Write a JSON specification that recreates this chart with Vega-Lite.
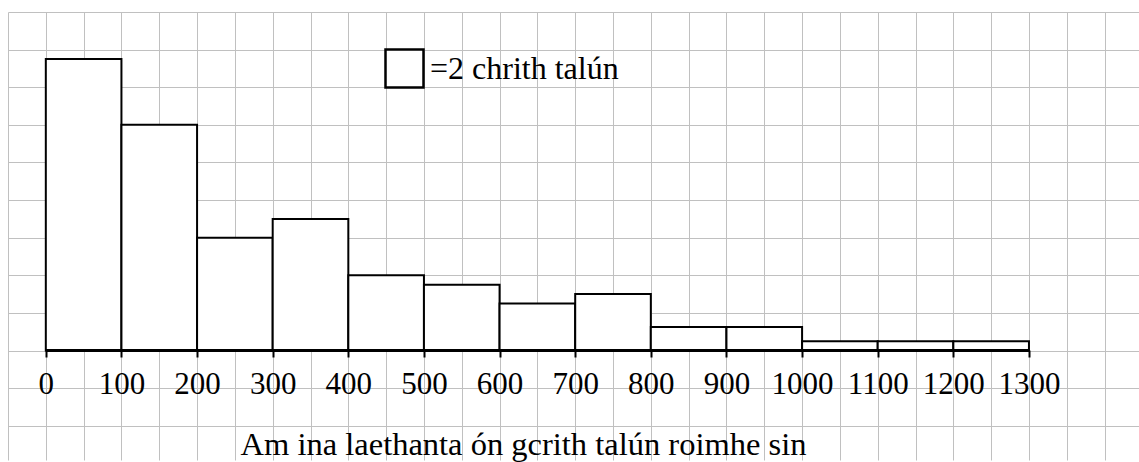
{
  "$schema": "https://vega.github.io/schema/vega-lite/v6.json",
  "width": 1139,
  "height": 462,
  "autosize": {"type": "fit", "contains": "padding"},
  "padding": {"left": 8, "top": 12, "right": 0, "bottom": 0},
  "background": "white",
  "config": {"view": {"stroke": null}, "font": "Liberation Serif"},
  "data": {
    "values": [
      {"start": 0, "end": 100, "h": 7.75},
      {"start": 100, "end": 200, "h": 6},
      {"start": 200, "end": 300, "h": 3},
      {"start": 300, "end": 400, "h": 3.5},
      {"start": 400, "end": 500, "h": 2},
      {"start": 500, "end": 600, "h": 1.75},
      {"start": 600, "end": 700, "h": 1.25},
      {"start": 700, "end": 800, "h": 1.5},
      {"start": 800, "end": 900, "h": 0.625},
      {"start": 900, "end": 1000, "h": 0.625},
      {"start": 1000, "end": 1100, "h": 0.25},
      {"start": 1100, "end": 1200, "h": 0.25},
      {"start": 1200, "end": 1300, "h": 0.25}
    ]
  },
  "layer": [
    {
      "mark": {"type": "rect", "fill": "white", "strokeWidth": 2},
      "encoding": {
        "x": {
          "field": "start",
          "type": "quantitative",
          "scale": {"domain": [-50, 1445.5], "nice": false, "zero": false},
          "axis": {
            "orient": "bottom",
            "offset": -110,
            "values": [0, 100, 200, 300, 400, 500, 600, 700, 800, 900, 1000, 1100, 1200, 1300],
            "format": "d",
            "domain": false,
            "grid": false,
            "ticks": true,
            "tickSize": 7,
            "tickWidth": 2,
            "tickColor": "black",
            "labelFont": "Liberation Serif",
            "labelFontSize": 31,
            "labelColor": "black",
            "labelBaseline": "alphabetic",
            "labelPadding": 36,
            "labelFlush": false,
            "labelOverlap": false,
            "title": "Am ina laethanta ón gcrith talún roimhe sin",
            "titleFont": "Liberation Serif",
            "titleFontSize": 32.5,
            "titleFontWeight": "normal",
            "titleColor": "black",
            "titleX": 515,
            "titleY": 104.7,
            "titleAlign": "center",
            "titleBaseline": "alphabetic"
          }
        },
        "x2": {"field": "end"},
        "y": {
          "field": "h",
          "type": "quantitative",
          "scale": {"domain": [-2.91, 9], "nice": false, "zero": false},
          "axis": {
            "values": [-2, -1, 0, 1, 2, 3, 4, 5, 6, 7, 8, 9],
            "grid": true,
            "gridColor": "#c0c0c0",
            "gridWidth": 1,
            "labels": false,
            "ticks": false,
            "domain": false,
            "title": null
          }
        },
        "y2": {"datum": 0},
        "stroke": {
          "datum": "=2 chrith talún",
          "type": "nominal",
          "scale": {"range": ["black"]},
          "legend": {
            "orient": "none",
            "legendX": 376,
            "legendY": 36,
            "title": null,
            "padding": 0,
            "symbolType": "square",
            "symbolSize": 1444,
            "symbolStrokeWidth": 2.5,
            "symbolFillColor": "white",
            "labelFont": "Liberation Serif",
            "labelFontSize": 32,
            "labelColor": "black",
            "labelLimit": 400,
            "labelOffset": 5
          }
        }
      }
    },
    {
      "mark": {"type": "rule", "color": "black", "strokeWidth": 3},
      "encoding": {
        "x": {
          "aggregate": "min",
          "field": "start",
          "type": "quantitative",
          "scale": {"domain": [-50, 1445.5], "nice": false, "zero": false},
          "axis": {
            "orient": "top",
            "values": [-50, 0, 50, 100, 150, 200, 250, 300, 350, 400, 450, 500, 550, 600, 650, 700, 750, 800, 850, 900, 950, 1000, 1050, 1100, 1150, 1200, 1250, 1300, 1350, 1400],
            "grid": true,
            "gridColor": "#c0c0c0",
            "gridWidth": 1,
            "labels": false,
            "ticks": false,
            "domain": false,
            "title": null
          }
        },
        "x2": {"aggregate": "max", "field": "end"},
        "y": {
          "datum": 0,
          "type": "quantitative",
          "scale": {"domain": [-2.91, 9], "nice": false, "zero": false},
          "axis": {
            "values": [-2, -1, 0, 1, 2, 3, 4, 5, 6, 7, 8, 9],
            "grid": true,
            "gridColor": "#c0c0c0",
            "gridWidth": 1,
            "labels": false,
            "ticks": false,
            "domain": false,
            "title": null
          }
        }
      }
    }
  ],
  "resolve": {"axis": {"x": "independent"}}
}
